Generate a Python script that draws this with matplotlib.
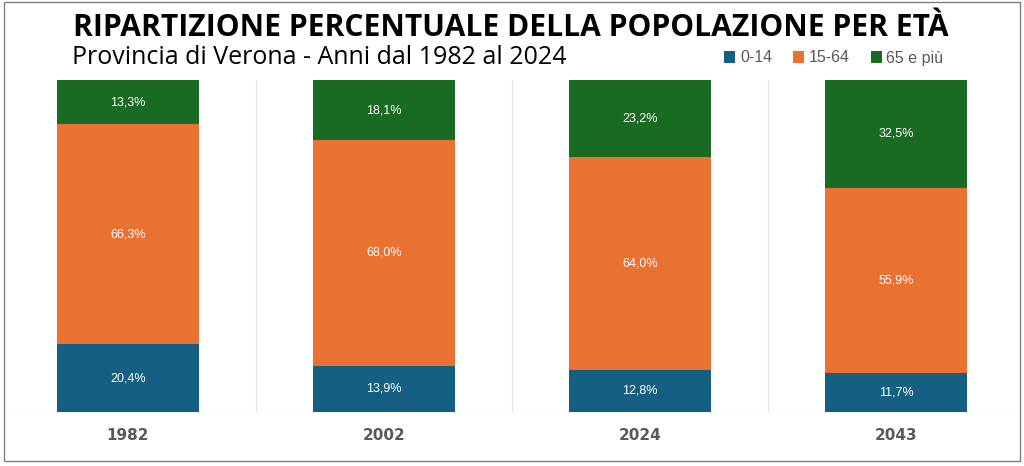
import numpy as np
import matplotlib.pyplot as plt
from matplotlib.patches import Rectangle

# data
anni = ["1982", "2002", "2024", "2043"]
fascia_0_14 = [20.4, 13.9, 12.8, 11.7]
fascia_15_64 = [66.3, 68.0, 64.0, 55.9]
fascia_65 = [13.3, 18.1, 23.2, 32.5]
etichette = ["0-14", "15-64", "65 e più"]
colori = ["#156082", "#E97132", "#196B24"]

fig = plt.figure(figsize=(10.24, 4.66), dpi=100)
ax = fig.add_axes([0.0, 54 / 466, 1.0, 332 / 466])

x = np.arange(len(anni))
fondo = np.zeros(len(anni))
serie = [fascia_0_14, fascia_15_64, fascia_65]
for vals, col, lab in zip(serie, colori, etichette):
    vals = np.array(vals)
    ax.bar(x, vals, 0.555, bottom=fondo, color=col, label=lab, zorder=3)
    for xi, b, v in zip(x, fondo, vals):
        ax.text(xi, b + v / 2, f"{v:.1f}%".replace(".", ","), ha="center",
                va="center", color="white", fontsize=9,
                family="Liberation Sans", zorder=4)
    fondo += vals

ax.set_xlim(-0.5, len(anni) - 0.5)
ax.set_ylim(0, 100)
for s in ax.spines.values():
    s.set_visible(False)
ax.set_yticks([])
ax.set_xticks([])
# separatori tra le categorie e linea di base
for xs in x[:-1] + 0.5:
    ax.axvline(xs, color="#e3e3e3", lw=0.8, zorder=1)
ax.axhline(0, color="#d9d9d9", lw=0.8, zorder=2)

for xi, a in zip(x, anni):
    fig.text((xi + 0.5) / len(anni), 1 - 436 / 466, a,
             ha="center", va="center", fontsize=11, fontweight="bold",
             color="#595959", family="DejaVu Sans")

fig.text(73 / 1024, 1 - 28 / 466, "RIPARTIZIONE PERCENTUALE DELLA POPOLAZIONE PER ETÀ",
         ha="left", va="center", fontsize=21.6, fontweight="bold",
         color="black", family="Open Sans")
fig.text(72 / 1024, 1 - 58 / 466, "Provincia di Verona - Anni dal 1982 al 2024",
         ha="left", va="center", fontsize=18, color="black", family="Open Sans")

leg = fig.legend(loc="center right", bbox_to_anchor=(958 / 1024, 1 - 58 / 466),
                 ncol=3, frameon=False, handlelength=0.7,
                 handleheight=0.7, handletextpad=0.3, columnspacing=1.3,
                 prop={"family": "Liberation Sans", "size": 11.5})
for t in leg.get_texts():
    t.set_color("#595959")

# cornice grigia attorno all'immagine
fig.patches.append(Rectangle((4 / 1024, 5 / 466), 1016 / 1024, 459 / 466,
                             transform=fig.transFigure, fill=False,
                             edgecolor="#808080", lw=1))

fig.savefig("out.png", dpi=100)
